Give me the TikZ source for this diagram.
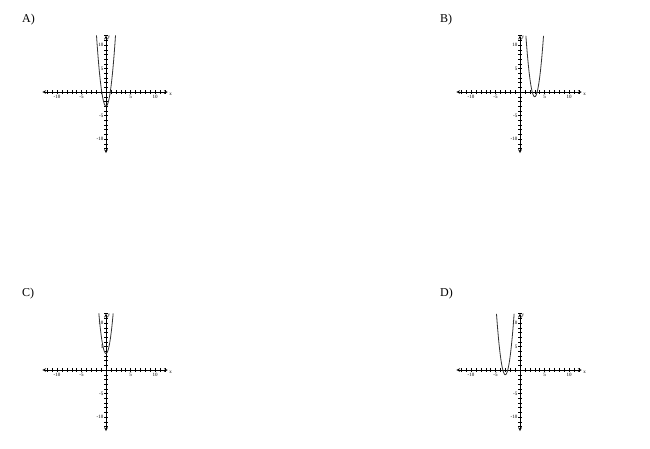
\documentclass[tikz,border=0pt]{standalone}
\usepackage{fontspec}
\setmainfont{Liberation Serif}
\begin{document}
\begin{tikzpicture}[x=1pt,y=-1pt,
  ax/.style={line width=0.7pt,<->,>=stealth},
  crv/.style={line width=0.8pt,black!80},
  lbl/.style={font=\fontsize{5}{6}\selectfont,inner sep=0.5pt},
  ttl/.style={font=\fontsize{12}{14}\selectfont,anchor=west,inner sep=0pt}]
\useasboundingbox (0,0) rectangle (650,448);
\newcommand{\graphAt}[4]{%
\begin{scope}[shift={(#1,#2)},x=4.9pt,y=4.7pt]
  \draw[ax] (-13,0) -- (12.6,0);
  \draw[ax] (0,-13) -- (0,12);
  \foreach \i in {-12,...,12}{\ifnum\i=0\else
    \draw[line width=0.4pt] (\i,-0.4) -- (\i,0.4);
    \draw[line width=0.4pt] (-0.35,\i) -- (0.35,\i);\fi}
  \foreach \i in {-10,-5,5,10}{
    \node[lbl,below] at (\i,-0.6) {\i};
    \node[lbl,left] at (-0.4,\i) {\i};}
  \node[lbl,below right] at (12.8,-0.2) {x};
  \node[lbl,right] at (0.2,11.6) {y};
  \draw[crv,domain=#4,samples=60,smooth] plot (\x,{#3});
\end{scope}}
\graphAt{106}{92}{4*\x*\x-3}{-1.94:1.94}
\node[ttl] (A) at (22,20) {A)};
\graphAt{520}{92}{4*(\x-3)*(\x-3)-1}{1.2:4.8}
\node[ttl] (B) at (440,20) {B)};
\graphAt{106}{370}{4*\x*\x+3.5}{-1.46:1.46}
\node[ttl] (C) at (22,294) {C)};
\graphAt{520}{370}{4*(\x+3)*(\x+3)-1}{-4.8:-1.2}
\node[ttl] (D) at (440,294) {D)};
\end{tikzpicture}
\end{document}
